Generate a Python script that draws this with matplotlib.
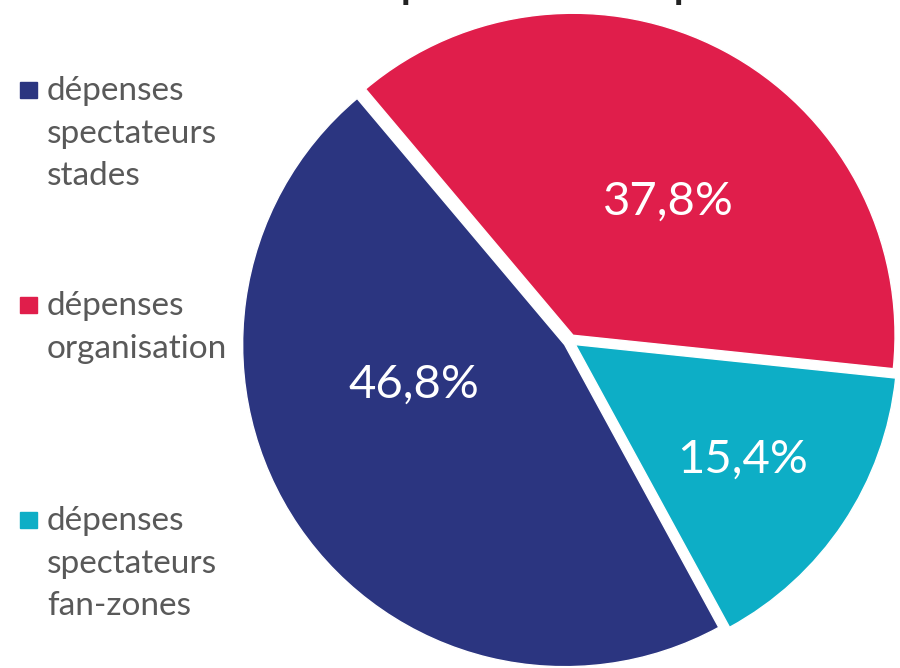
import matplotlib.pyplot as plt
from matplotlib.patches import Rectangle

# ── Données ──────────────────────────────────────────────────────────────────
categories = ["dépenses\nspectateurs\nstades",
              "dépenses\norganisation",
              "dépenses\nspectateurs\nfan-zones"]
parts = [46.8, 37.8, 15.4]
couleurs = ["#2b3580", "#e01e4b", "#0daec6"]
titre = "Répartition de l'impact"

plt.rcParams["font.family"] = ["Lato", "DejaVu Sans"]

W, H = 900, 668
fig = plt.figure(figsize=(W / 100, H / 100), dpi=100)
ax = fig.add_axes([0, 0, 1, 1])

# ── Camembert ────────────────────────────────────────────────────────────────
cx, cy = 570, H - 341
wedges, _, pcts = ax.pie(
    parts, colors=couleurs, startangle=298.6, counterclock=False,
    center=(cx, cy), radius=322, explode=[6.5] * 3,
    autopct=lambda p: f"{p:.1f}%".replace(".", ","), pctdistance=0.56,
    wedgeprops=dict(edgecolor="white", linewidth=1),
    textprops=dict(color="white", fontsize=34), frame=True)
ax.set_xlim(0, W)
ax.set_ylim(0, H)
ax.set_aspect("equal")
ax.axis("off")

# position des étiquettes (décalage en pixels par rapport au centre)
decalages = [(-156, -44), (98, 139), (173, -119)]
for t, (dx, dy) in zip(pcts, decalages):
    t.set_position((cx + dx, cy + dy))

# ── Légende ──────────────────────────────────────────────────────────────────
for i, (lab, clr) in enumerate(zip(categories, couleurs)):
    ax.add_patch(Rectangle((20, H - 98 - 215 * i), 17, 16, color=clr,
                           clip_on=False))
    ax.text(47, H - 76 - 215 * i, lab, fontsize=24, color="#595959",
            va="top", ha="left", linespacing=1.53)

# ── Titre (coupé en haut) ────────────────────────────────────────────────────
r = fig.canvas.get_renderer()


def etendue(s, fs):
    t = fig.text(0, 0, s, fontsize=fs, fontweight="bold", va="baseline")
    bb = t.get_window_extent(r)
    t.remove()
    return bb


fs = 30
d = etendue("Répartition de l'im", fs).width - etendue("Ré", fs).width
fs = fs * 273 / d
x0 = 403 - etendue("Ré", fs).width - 0.06 * fs * 100 / 72
desc = -etendue("p", fs).y0
fig.text(x0 / W, (H + desc - 5) / H, titre, fontsize=fs, fontweight="bold",
         color="#222222", ha="left", va="baseline")

fig.savefig("out.png", dpi=100)
